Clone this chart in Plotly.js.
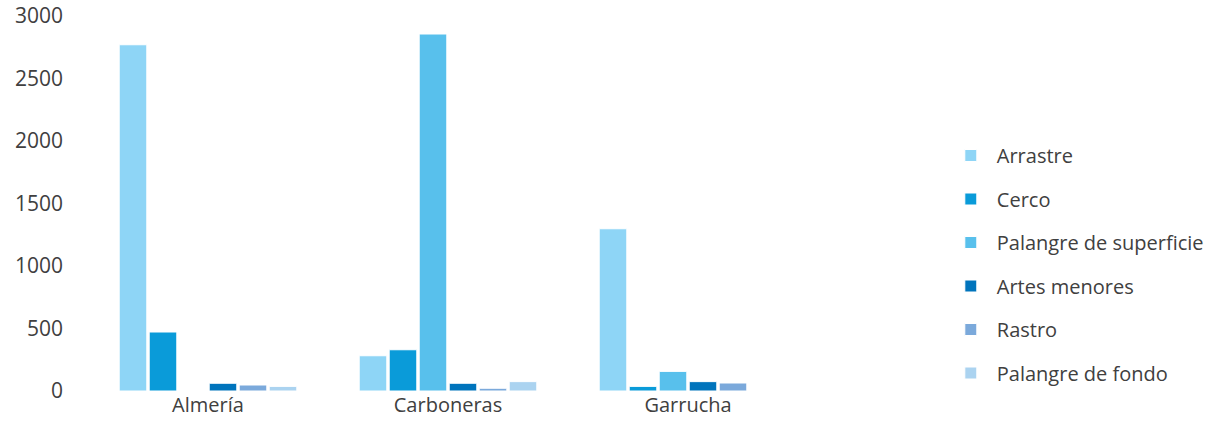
<!DOCTYPE html>
<html>
<head>
<meta charset="utf-8">
<script src="https://cdn.plot.ly/plotly-3.0.1.min.js"></script>
<style>html,body{margin:0;padding:0;background:#fff;}#chart{width:1228px;height:421px;}</style>
</head>
<body>
<div id="chart"></div>
<script>
const ports = ["Almería", "Carboneras", "Garrucha"];
const seriesNames = ["Arrastre", "Cerco", "Palangre de superficie", "Artes menores", "Rastro", "Palangre de fondo"];
const arrastre = [2770, 282, 1298];
const cerco = [472, 330, 37];
const palangreSuperficie = [0, 2856, 157];
const artesMenores = [62, 62, 75];
const rastro = [48, 22, 64];
const palangreFondo = [37, 75, 0];
const colors = ["#8ED5F6", "#0A9BD9", "#58C0EC", "#0074BC", "#7BA9DB", "#ABD3F0"];
const yTicks = [0, 500, 1000, 1500, 2000, 2500, 3000];

const values = [arrastre, cerco, palangreSuperficie, artesMenores, rastro, palangreFondo];
const FONT = "Open Sans, sans-serif";
const traces = values.map((v, i) => ({
  type: "bar",
  name: seriesNames[i],
  x: ports,
  y: v,
  legendgroup: "g" + i,
  marker: {color: colors[i], line: {color: "#ffffff", width: 1}},
  hoverinfo: "x+y+name"
}));

const layout = {
  width: 1228, height: 421,
  margin: {l: 88, r: 420, t: 16, b: 30},
  paper_bgcolor: "#fff", plot_bgcolor: "#fff",
  barmode: "group",
  bargap: 0.25,
  bargroupgap: 0.08,
  font: {family: FONT, color: "#404040", size: 20},
  xaxis: {
    showgrid: false, showline: false, zeroline: false, ticks: "",
    tickfont: {family: FONT, size: 20, color: "#404040"},
    range: [-0.5, 2.5]
  },
  yaxis: {
    range: [0, 3000], tickvals: yTicks, ticktext: yTicks.map(String),
    showgrid: false, showline: false, zeroline: false, ticks: "",
    tickfont: {family: FONT, size: 21, color: "#404040"},
    ticklabelstandoff: 24
  },
  showlegend: true,
  legend: {
    x: 1.19, xanchor: "left", y: 0.68, yanchor: "top",
    font: {family: FONT, size: 20, color: "#404040"},
    tracegroupgap: 14.5,
    itemwidth: 42,
    traceorder: "grouped",
    bgcolor: "rgba(0,0,0,0)"
  }
};

Plotly.newPlot("chart", traces, layout, {displayModeBar: false, staticPlot: true});
</script>
</body>
</html>
